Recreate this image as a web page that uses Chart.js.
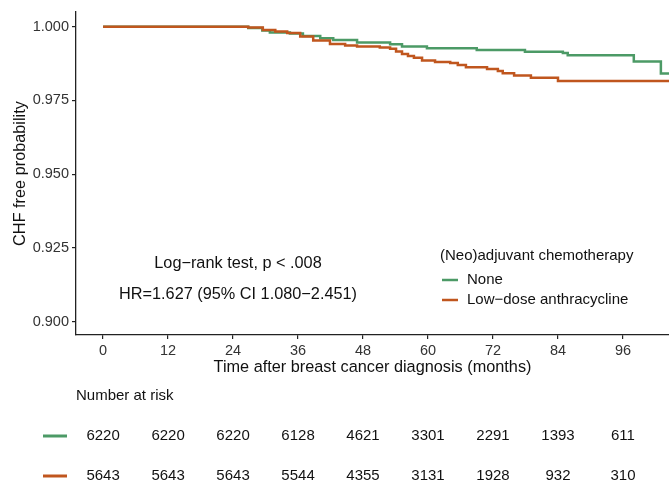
<!DOCTYPE html>
<html>
<head>
<meta charset="utf-8">
<script src="https://cdn.jsdelivr.net/npm/chart.js@4"></script>
<style>
  html, body { margin: 0; padding: 0; background: #fff; }
  #km { display: block; }
</style>
</head>
<body>
<canvas id="km" width="669" height="484"></canvas>
<script>
// values
const groupLabels = ["None", "Low\u2212dose anthracycline"];
const groupColors = ["#4c9a66", "#c0561e"];

const noneTimes = [0, 26.8, 29.4, 30.8, 34.5, 36.9, 40.1, 42.5, 46.9, 53.0, 55.2, 59.8, 69.0, 77.9, 84.9, 85.8, 98.0, 103.0, 104.5];
const noneSurv  = [1.0, 0.99956, 0.99871, 0.99803, 0.99769, 0.99685, 0.99607, 0.99549, 0.99464, 0.99403, 0.99329, 0.99268, 0.99210, 0.99149, 0.99108, 0.99031, 0.98820, 0.98414, 0.98414];

const lowTimes = [0, 26.8, 29.5, 31.8, 34.0, 36.4, 38.8, 41.9, 44.7, 46.9, 51.1, 53.0, 54.1, 55.2, 56.3, 57.4, 58.9, 61.3, 64.1, 65.5, 67.0, 70.9, 72.9, 73.8, 75.9, 79.0, 84.0, 104.5];
const lowSurv  = [1.0, 0.99973, 0.99888, 0.99837, 0.99786, 0.99668, 0.99532, 0.99414, 0.99363, 0.99329, 0.99295, 0.99254, 0.99159, 0.99075, 0.99007, 0.98949, 0.98854, 0.98803, 0.98769, 0.98702, 0.98624, 0.98566, 0.98498, 0.98420, 0.98346, 0.98268, 0.98159, 0.98159];

const xTicks = [0, 12, 24, 36, 48, 60, 72, 84, 96];
const yTicks = [0.900, 0.925, 0.950, 0.975, 1.000];

const riskNone = [6220, 6220, 6220, 6128, 4621, 3301, 2291, 1393, 611];
const riskLow  = [5643, 5643, 5643, 5544, 4355, 3131, 1928, 932, 310];

const statLines = ["Log\u2212rank test, p < .008", "HR=1.627 (95% CI 1.080\u22122.451)"];
const legendTitle = "(Neo)adjuvant chemotherapy";

const FONT = "'Liberation Sans', Arial, sans-serif";

function toPoints(times, surv) {
  return times.map((t, i) => ({ x: t, y: surv[i] }));
}

const extras = {
  id: "extras",
  afterDraw(chart) {
    const { ctx, scales: { x } } = chart;
    ctx.save();
    ctx.fillStyle = "#111";
    ctx.textBaseline = "middle";

    // test results
    ctx.font = "16.3px " + FONT;
    ctx.textAlign = "center";
    ctx.fillText(statLines[0], 238, 264);
    ctx.fillText(statLines[1], 238, 295);

    // legend
    ctx.textAlign = "left";
    ctx.font = "15px " + FONT;
    ctx.fillText(legendTitle, 440, 256);
    ctx.lineWidth = 2.5;
    [280, 300].forEach((y, i) => {
      ctx.strokeStyle = groupColors[i];
      ctx.beginPath();
      ctx.moveTo(442, y);
      ctx.lineTo(458, y);
      ctx.stroke();
      ctx.fillText(groupLabels[i], 467, y);
    });

    // number at risk table
    ctx.font = "15px " + FONT;
    ctx.fillText("Number at risk", 76, 396);
    ctx.textAlign = "center";
    ctx.lineWidth = 3;
    [[riskNone, 436], [riskLow, 476]].forEach(([row, y], i) => {
      ctx.strokeStyle = groupColors[i];
      ctx.beginPath();
      ctx.moveTo(43, y);
      ctx.lineTo(67, y);
      ctx.stroke();
      row.forEach((n, j) => {
        ctx.fillText(String(n), x.getPixelForValue(xTicks[j]), y);
      });
    });
    ctx.restore();
  }
};

new Chart(document.getElementById("km"), {
  type: "line",
  data: {
    datasets: [
      {
        label: groupLabels[0],
        data: toPoints(noneTimes, noneSurv),
        borderColor: groupColors[0],
        borderWidth: 2.5,
        stepped: "before",
        pointRadius: 0,
        fill: false,
        order: 2
      },
      {
        label: groupLabels[1],
        data: toPoints(lowTimes, lowSurv),
        borderColor: groupColors[1],
        borderWidth: 2.5,
        stepped: "before",
        pointRadius: 0,
        fill: false,
        order: 1
      }
    ]
  },
  options: {
    responsive: false,
    animation: false,
    layout: { padding: { left: 0, right: 0, top: 12, bottom: 104 } },
    scales: {
      x: {
        type: "linear",
        min: -5,
        max: 104.5,
        afterFit: s => { s.height = 45; },
        afterBuildTicks: s => { s.ticks = xTicks.map(v => ({ value: v })); },
        border: { color: "#222", width: 1.3 },
        grid: { drawOnChartArea: false, tickLength: 4, color: "#222", lineWidth: 1.2 },
        ticks: { color: "#333", padding: 3, maxRotation: 0, font: { family: FONT, size: 14.5 } },
        title: {
          display: true,
          text: "Time after breast cancer diagnosis (months)",
          color: "#111",
          padding: { top: 0, bottom: 3 },
          font: { family: FONT, size: 16.3 }
        }
      },
      y: {
        min: 0.8955,
        max: 1.005,
        afterFit: s => { s.width = 76; },
        afterBuildTicks: s => { s.ticks = yTicks.map(v => ({ value: v })); },
        border: { color: "#222", width: 1.3 },
        grid: { drawOnChartArea: false, tickLength: 4, color: "#222", lineWidth: 1.2 },
        ticks: {
          color: "#333",
          padding: 3,
          font: { family: FONT, size: 14.5 },
          callback: v => v.toFixed(3)
        },
        title: {
          display: true,
          text: "CHF free probability",
          color: "#111",
          padding: { top: 11, bottom: 0 },
          font: { family: FONT, size: 16.3 }
        }
      }
    },
    plugins: {
      legend: { display: false },
      tooltip: { enabled: false }
    }
  },
  plugins: [extras]
});
</script>
</body>
</html>
